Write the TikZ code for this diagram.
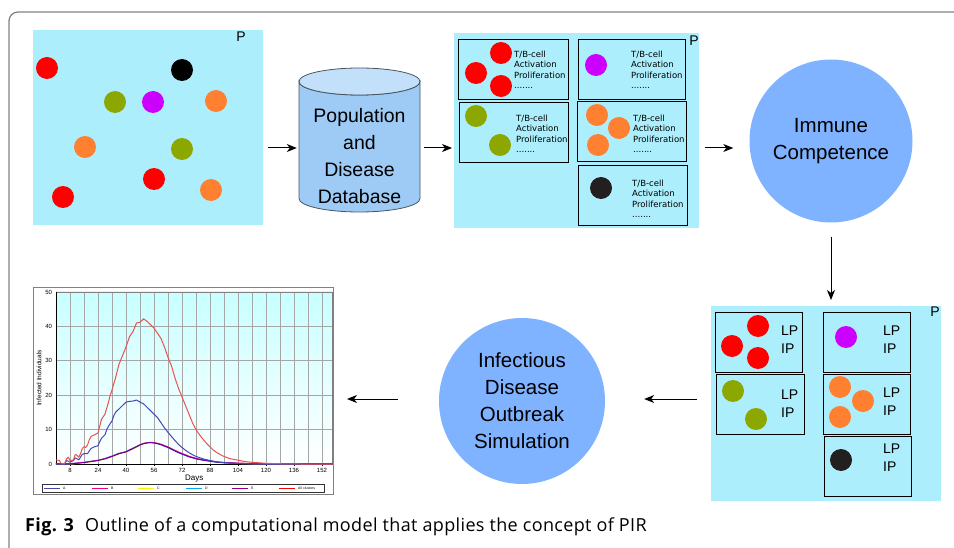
\documentclass[tikz,border=0pt]{standalone}
\usepackage{fontspec}
\setmainfont{Liberation Sans}
\newfontfamily\smallfont{DejaVu Sans}
\newfontfamily\capfont[LetterSpace=2]{Open Sans}
\usetikzlibrary{arrows.meta,positioning}

\definecolor{panelcyan}{RGB}{173,238,252}
\definecolor{cellred}{RGB}{255,0,0}
\definecolor{cellolive}{RGB}{140,168,0}
\definecolor{cellmag}{RGB}{204,0,255}
\definecolor{cellorange}{RGB}{255,128,48}
\definecolor{cellblack}{RGB}{35,31,32}
\definecolor{bubblue}{RGB}{128,179,255}
\definecolor{dbbody}{RGB}{158,203,246}
\definecolor{dbtop}{RGB}{195,224,250}
\definecolor{dbline}{RGB}{70,85,100}
\definecolor{framegray}{RGB}{130,130,130}
\definecolor{plottop}{RGB}{200,255,255}
\definecolor{lineA}{RGB}{70,70,180}
\definecolor{lineAll}{RGB}{235,80,80}
\definecolor{lineE}{RGB}{140,0,140}

\tikzset{
  panel/.style={fill=panelcyan, inner sep=0pt, anchor=north west},
  group/.style={draw=black, line width=1.3pt, inner sep=0pt, anchor=north west, minimum height=60pt},
  cell/.style={circle, inner sep=0pt, minimum size=22pt},
  bubble/.style={circle, fill=bubblue, inner sep=0pt, minimum size=165pt, align=center,
    font=\fontsize{20.5}{27}\selectfont},
  info/.style={anchor=north west, align=left, inner sep=0pt, font=\smallfont\fontsize{8.5}{10.5}\selectfont},
  risk/.style={anchor=north west, align=left, inner sep=0pt, font=\fontsize{14}{18}\selectfont},
  plab/.style={inner sep=0pt, font=\fontsize{14}{14}\selectfont},
  flow/.style={->, line width=1pt},
  ticklab/.style={inner sep=0pt, font=\fontsize{6}{6}\selectfont},
  grid/.style={gray!70, line width=0.6pt},
  smallcurve/.pic={
    \draw[line width=0.9pt, line join=round] plot coordinates {(0,0) (8,0) (12,0.2) (16,0.4) (20,0.7)
      (24,1) (28,1.5) (32,2.2) (36,3) (40,3.5) (42,4) (44,4.5) (46,5) (48,5.5) (50,5.9) (52,6.1)
      (54,6.2) (56,6.1) (58,5.9) (60,5.6) (62,5.2) (64,4.8) (66,4.3) (68,3.8) (70,3.3) (72,2.9)
      (74,2.5) (76,2.1) (80,1.5) (84,1.1) (88,0.8) (92,0.5) (96,0.35) (104,0.15) (112,0.05)
      (120,0) (158,0)};
  }
}

\begin{document}
\begin{tikzpicture}[>={Stealth[length=10pt, width=8pt, inset=3pt]}, x=1pt, y=-1pt]
\path[use as bounding box, clip] (0,0) rectangle (954,548);
\draw[framegray, line width=1.3pt, rounded corners=9pt] (9,12) rectangle (980,580);

% the population with its clusters
\node[panel, minimum width=230pt, minimum height=195pt] (pop) at (33,30) {};
\node[plab] (popP) at (241,37) {P};
\foreach \x/\y/\c [count=\i] in {47/68/cellred, 182/70/black, 115/102/cellolive, 153/102/cellmag,
    216/101/cellorange, 85/147/cellorange, 182/149/cellolive, 154/179/cellred,
    211/190/cellorange, 63/197/cellred}
  \node[cell, fill=\c] (pd\i) at (\x,\y) {};

% the database
\draw[dbline, line width=0.8pt, fill=dbbody] (299,81.5) -- (299,198.5)
  arc[start angle=180, end angle=0, x radius=60.5, y radius=13.5] -- (420,81.5)
  arc[start angle=0, end angle=180, x radius=60.5, y radius=13.5] -- cycle;
\draw[dbline, line width=0.8pt, fill=dbtop] (359.5,81.5) ellipse[x radius=60.5, y radius=13.5];
\node[inner sep=0pt, minimum width=121pt, minimum height=144pt] (db) at (359.5,140) {};
\node[align=center, inner sep=0pt, font=\fontsize{19.5}{26.7}\selectfont] (dbtext) at (359.5,156)
  {Population\\and\\Disease\\Database};

% T/B-cell groups
\node[panel, minimum width=245pt, minimum height=195pt] (tb) at (454,33) {};
\node[plab] (tbP) at (694,41) {P};
\node[group, minimum width=110pt] (ga) at (458,39) {};
\node[group, minimum width=109pt] (gb) at (459,102) {};
\node[group, minimum width=107pt] (gc) at (578,39) {};
\node[group, minimum width=109pt] (gd) at (577,101) {};
\node[group, minimum width=109pt] (ge) at (578,165) {};
\foreach \x/\y/\c [count=\i] in {501/53/cellred, 476/73/cellred, 501/86/cellred,
    476/116/cellolive, 500/145/cellolive, 596/65/cellmag,
    597/115/cellorange, 619/128/cellorange, 598/145/cellorange, 601/188/cellblack}
  \node[cell, fill=\c] (td\i) at (\x,\y) {};
\foreach \x/\y [count=\i] in {514/50.5, 516/114.5, 631/50.5, 633/114.5, 632/179.5}
  \node[info] (ti\i) at (\x,\y) {T/B-cell\\Activation\\Proliferation\\.......};

% immune competence
\node[bubble, minimum size=163pt] (immune) at (831,141) {Immune\\Competence};

% LP / IP groups
\node[panel, minimum width=230pt, minimum height=195pt] (lp) at (711,306) {};
\node[plab] (lpP) at (935,312) {P};
\node[group, minimum width=87pt] (ha) at (715,312) {};
\node[group, minimum width=88pt] (hb) at (716,374) {};
\node[group, minimum width=87pt] (hc) at (823,312) {};
\node[group, minimum width=87pt] (hd) at (823,374) {};
\node[group, minimum width=87pt] (he) at (824,436) {};
\foreach \x/\y/\c [count=\i] in {758/326/cellred, 732/346/cellred, 758/358/cellred,
    733/391/cellolive, 756/419/cellolive, 846/337/cellmag,
    840/387/cellorange, 863/401/cellorange, 840/417/cellorange, 841/460/cellblack}
  \node[cell, fill=\c] (ld\i) at (\x,\y) {};
\foreach \x/\y [count=\i] in {781/326, 781/390, 883/326, 883/388, 883/444}
  \node[risk] (li\i) at (\x,\y) {LP\\IP};

% outbreak simulation
\node[bubble, minimum size=166pt] (infect) at (522,401) {Infectious\\Disease\\Outbreak\\Simulation};

% simulation output
\node[draw=gray, line width=1pt, inner sep=0pt, anchor=north west,
  minimum width=300pt, minimum height=207pt] (chart) at (33,287) {};
\begin{scope}[shift={(56,464)}, x=1.75pt, y=3.44pt]
  \shade[top color=plottop, bottom color=white] (0,0) rectangle (158,50);
  \foreach \d in {8,16,...,152}
    \draw[grid] (\d,0) -- (\d,50);
  \foreach \v in {10,20,30,40}
    \draw[grid] (0,\v) -- (158,\v);
  \draw[gray, line width=0.6pt] (0,50) -- (158,50) -- (158,0);
  \draw[line width=0.6pt] (0,50) -- (0,0) -- (158,0);
  \foreach \d in {8,24,...,152} {
    \draw[line width=0.5pt] (\d,0) -- (\d,-0.6);
    \node[ticklab, anchor=north] (xl\d) at (\d,-1.1) {\d};
  }
  \foreach \v in {0,10,...,50}
    \node[ticklab, anchor=east] (yl\v) at (-2.2,\v) {\v};
  \node[inner sep=0pt, font=\fontsize{8}{8}\selectfont] (days) at (79,-4.1) {Days};
  \node[inner sep=0pt, rotate=90, font=\fontsize{6.5}{6.5}\selectfont] (infind) at (-9.7,25) {Infected Individuals};
  % the curves
  \pic[yellow] at (0.6,0) {smallcurve};
  \pic[cyan] at (-0.4,0.05) {smallcurve};
  \pic[magenta] at (0.3,0.12) {smallcurve};
  \pic[lineE!70!blue] at (0,0) {smallcurve};
  \draw[lineA, line width=1pt, line join=round] plot coordinates {(0,0) (5,0) (6,1) (7,0.8) (8,0.5)
    (10,1) (11,1.8) (12,1.5) (13,1.2) (14,2) (15,2.8) (16,3) (18,3) (19,3.8) (20,4.5) (22,5)
    (24,5.3) (25,6.5) (26,7.5) (28,8.5) (29,10) (30,11) (32,12.5) (33,14) (34,15) (36,16) (38,17)
    (40,18) (42,18.2) (44,18.3) (46,18.6) (48,18) (50,17.5) (52,16.5) (54,15.5) (56,14.5)
    (58,13.5) (60,12) (62,10.5) (64,9.2) (66,8) (68,6.8) (70,5.7) (72,4.8) (74,4) (76,3.3)
    (78,2.7) (80,2.2) (84,1.5) (88,1) (92,0.6) (96,0.4) (104,0.15) (112,0.05) (120,0) (158,0)};
  \draw[lineAll, line width=1pt, line join=round] plot coordinates {(0,1.2) (2,1) (3,0) (5,0.2)
    (6,1.5) (7,2) (8,1) (10,1.2) (11,2.8) (12,2.5) (13,2) (14,3) (15,4.5) (16,5) (17,4.8)
    (18,5.5) (19,7) (20,8) (22,8.5) (24,9) (25,11) (26,13) (28,14.5) (30,18) (31,20) (32,21.5)
    (34,25) (36,29) (38,31.5) (40,34) (42,37) (44,38.5) (46,41) (48,41.2) (50,42.2) (52,41.5)
    (54,40.5) (56,39.5) (58,38) (60,36.5) (62,34) (64,31) (66,28.5) (68,25) (70,22) (72,19.5)
    (74,17) (76,14.5) (78,12) (80,10) (82,8.5) (84,7.2) (86,6) (88,5) (90,4) (92,3.3) (94,2.7)
    (96,2.2) (98,1.8) (100,1.5) (104,1.1) (108,0.7) (112,0.5) (120,0.2) (130,0.05) (140,0) (158,0)};
\end{scope}
\node[draw=black!80, line width=0.8pt, fill=white, inner sep=0pt, anchor=north west,
  minimum width=282pt, minimum height=8pt] (legend) at (42,484) {};
\foreach \x/\c/\t [count=\i] in {44/lineA/A, 92/magenta/B, 138/yellow/C, 186/cyan/D,
    232/lineE/E, 279/red/All clusters} {
  \draw[\c, line width=0.8pt] (\x,488) -- +(16,0);
  \node[anchor=west, inner sep=0pt, font=\fontsize{3.5}{3.5}\selectfont] (leg\i) at (\x+19,488) {\t};
}

% the links
\coordinate (row1) at (0,148);
\coordinate (row2) at (0,399);
\draw[flow, shorten <=5pt, shorten >=2pt] (pop.east |- row1) -- (db.west |- row1);
\draw[flow, shorten <=4pt, shorten >=2pt] (db.east |- row1) -- (tb.west |- row1);
\draw[flow, shorten <=6pt, shorten >=16pt] (tb.east |- row1) -- (immune.west |- row1);
\draw[flow, shorten <=14pt, shorten >=6pt] (immune.south) -- (immune.south |- lp.north);
\draw[flow, shorten <=14pt, shorten >=39pt] (lp.west |- row2) -- (infect.east |- row2);
\draw[flow, shorten <=41pt, shorten >=13pt] (infect.west |- row2) -- (chart.east |- row2);

% caption
\node[anchor=base west, inner sep=0pt, font=\capfont\bfseries\fontsize{18}{20}\selectfont] (fig) at (25,531) {Fig. 3};
\node[anchor=base west, inner sep=0pt, font=\capfont\fontsize{18}{20}\selectfont] (cap) at (85,531)
  {Outline of a computational model that applies the concept of PIR};
\end{tikzpicture}
\end{document}
